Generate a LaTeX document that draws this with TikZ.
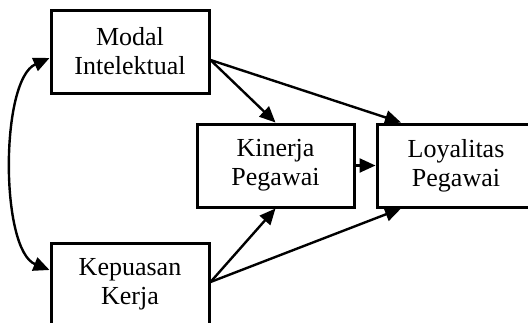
\documentclass[tikz,border=0pt]{standalone}
\usepackage{fontspec}
\setmainfont{Liberation Serif}
\usetikzlibrary{arrows.meta}

\begin{document}
\begin{tikzpicture}[x=1pt,y=-1pt,
        varbox/.style={draw,line width=3pt,minimum width=158pt,minimum height=83pt,
                inner sep=0pt,align=center,font=\fontsize{26}{29}\selectfont},
        path/.style={line width=2.4pt,-{Triangle[length=16pt,width=14pt]}}]

        \useasboundingbox (0,0) rectangle (528,322);

        \node[varbox] (modal) at (130,51.5) {Modal\\Intelektual};
        \node[varbox] (kepuasan) at (130,284.5) {Kepuasan\\Kerja};
        \node[varbox,minimum width=157pt] (kinerja) at (275.5,165.5) {Kinerja\\Pegawai};
        \node[varbox] (loyalitas) at (456,165.5) {Loyalitas\\Pegawai};

        \coordinate (mi) at ([yshift=-8.5pt]modal.east);
        \coordinate (kk) at ([yshift=2.5pt]kepuasan.east);

        \draw[path] (mi) -- (kinerja.north);
        \draw[path] (mi) -- ([xshift=-55pt]loyalitas.north);
        \draw[path] (kk) -- (kinerja.south);
        \draw[path] (kk) -- ([xshift=-55pt]loyalitas.south);
        \draw[path] (kinerja.east) -- (loyalitas.west);

        \draw[line width=2.4pt,{Triangle[length=16pt,width=14pt]}-{Triangle[length=16pt,width=14pt]}]
                ([yshift=-6.5pt]modal.west) .. controls (0,80) and (0,250) .. ([yshift=14.5pt]kepuasan.west);

\end{tikzpicture}
\end{document}
